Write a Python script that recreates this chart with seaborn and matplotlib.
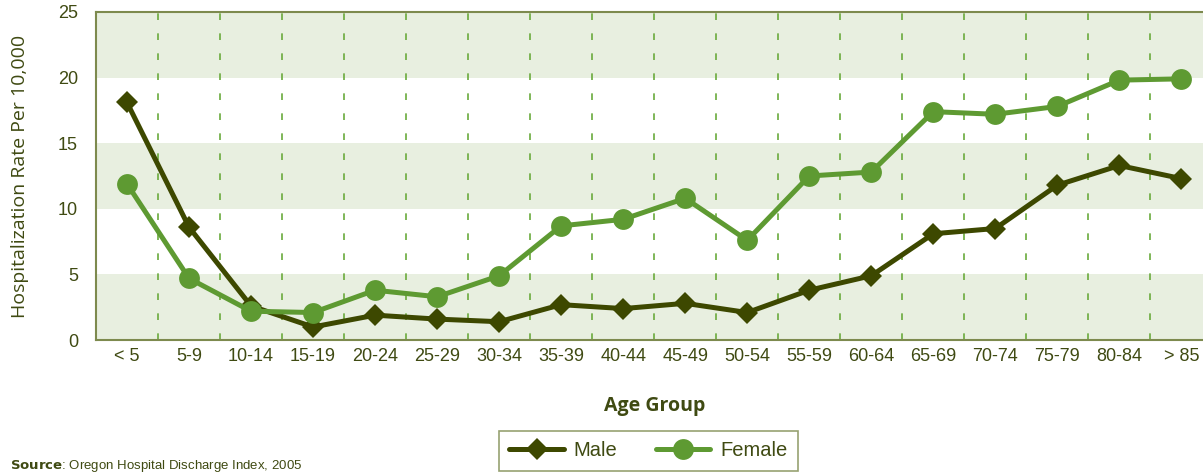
import pandas as pd
import matplotlib.pyplot as plt
import seaborn as sns

# Data
age_groups = ["< 5", "5-9", "10-14", "15-19", "20-24", "25-29", "30-34", "35-39",
              "40-44", "45-49", "50-54", "55-59", "60-64", "65-69", "70-74",
              "75-79", "80-84", "> 85"]
male = [18.1, 8.6, 2.6, 1.0, 1.9, 1.6, 1.4, 2.7, 2.4, 2.8, 2.1, 3.8, 4.9,
        8.1, 8.5, 11.8, 13.3, 12.3]
female = [11.9, 4.7, 2.2, 2.1, 3.8, 3.3, 4.9, 8.7, 9.2, 10.8, 7.6, 12.5, 12.8,
          17.4, 17.2, 17.8, 19.8, 19.9]

df = pd.DataFrame({
    "age": age_groups * 2,
    "rate": male + female,
    "sex": ["Male"] * len(male) + ["Female"] * len(female),
})

dark = "#3d4800"
light = "#5e9a32"
text_col = "#3f4a12"
band = "#e8efe0"
spine_col = "#7d8a4e"

sns.set_style("white")
plt.rcParams["font.family"] = ["Liberation Sans", "DejaVu Sans"]

fig = plt.figure(figsize=(12.03, 4.75), dpi=100)
ax = fig.add_axes([0.0798, 0.284, 0.928, 0.691])

# horizontal bands
for lo in [0, 10, 20]:
    ax.axhspan(lo, lo + 5, color=band, zorder=0, lw=0)

# vertical dashed separators between categories
for i in range(len(age_groups)):
    ax.axvline(i + 0.5, color="#6aaa3c", lw=1.2, ls=(0, (4, 8)), zorder=1)

sns.lineplot(data=df, x="age", y="rate", hue="sex", style="sex",
             palette={"Male": dark, "Female": light},
             markers={"Male": "D", "Female": "o"}, dashes=False,
             linewidth=3.6, markeredgewidth=0, ax=ax, zorder=3, sort=False)

# adjust marker sizes
for line in ax.get_lines():
    if line.get_marker() == "D":
        line.set_markersize(11.5)
    elif line.get_marker() == "o":
        line.set_markersize(15)

ax.set_xlim(-0.5, len(age_groups) - 0.5)
ax.set_ylim(0, 25)
ax.set_yticks([0, 5, 10, 15, 20, 25])
ax.tick_params(axis="both", length=0, labelsize=13, colors=text_col)
ax.tick_params(axis="y", pad=13)
ax.tick_params(axis="x", pad=6)

for side in ["left", "bottom", "top"]:
    ax.spines[side].set_color(spine_col)
    ax.spines[side].set_linewidth(1.5)
ax.spines["right"].set_visible(False)

ax.set_xlabel("Age Group", fontsize=14, fontweight="bold", color=text_col,
              labelpad=22, family=["Open Sans", "DejaVu Sans"])
ax.set_ylabel("Hospitalization Rate Per 10,000", fontsize=14, color=text_col,
              labelpad=21, family=["Open Sans", "DejaVu Sans"])

handles, labels = ax.get_legend_handles_labels()
for h in handles:
    if h.get_marker() == "D":
        h.set_markersize(11.5)
    else:
        h.set_markersize(15)
ax.get_legend().remove()
leg = fig.legend(handles, labels, ncol=2, loc="upper center",
                 bbox_to_anchor=(0.539, 0.113), frameon=True, fancybox=False,
                 fontsize=14.5, handlelength=2.7, columnspacing=1.9,
                 borderpad=0.5, handletextpad=0.5)
leg.get_frame().set_edgecolor(spine_col)
leg.get_frame().set_linewidth(1.2)
for t in leg.get_texts():
    t.set_color(text_col)

fig.text(0.008, 0.002, r"$\bf{Source}$: Oregon Hospital Discharge Index, 2005",
         fontsize=9.5, color=text_col, ha="left", va="bottom")

fig.savefig("out.png", dpi=100)
